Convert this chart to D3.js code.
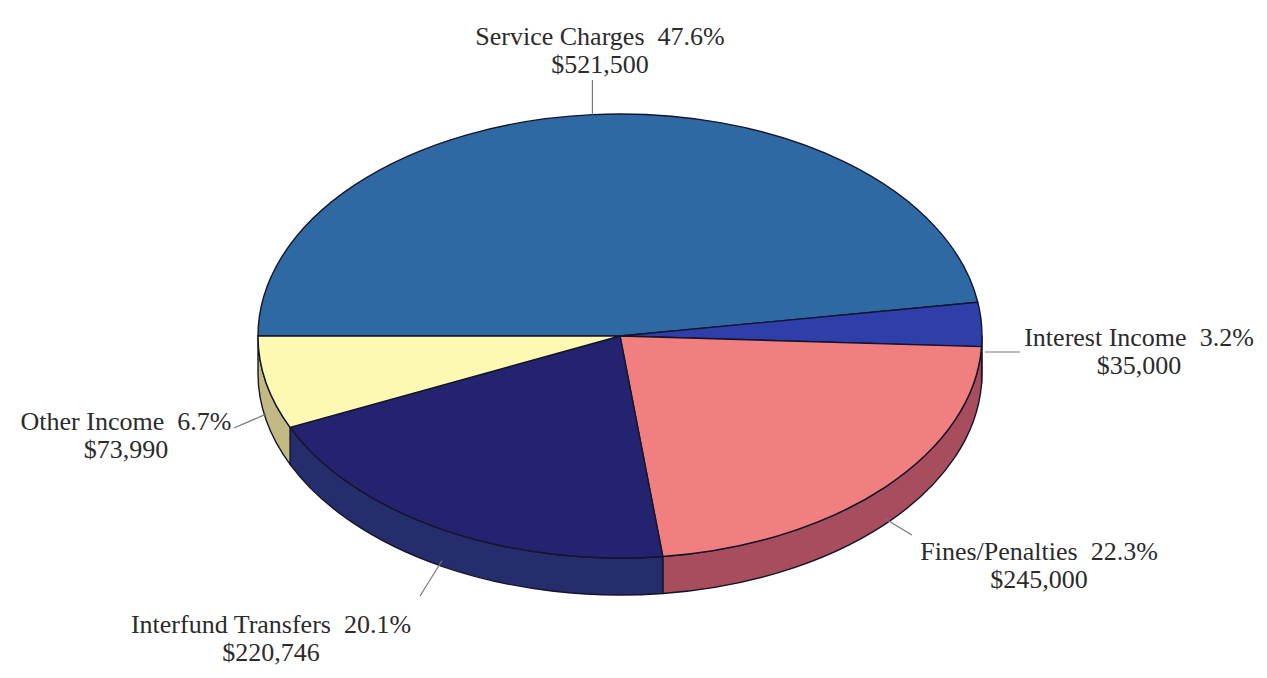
<!DOCTYPE html>
<html>
<head>
<meta charset="utf-8">
<script src="https://cdn.jsdelivr.net/npm/d3@7"></script>
<style>
  body { margin: 0; background: #fff; }
  svg text { font-family: "Liberation Serif", "Times New Roman", serif; fill: #2b2b2b; }
</style>
</head>
<body>
<div id="chart"></div>
<script>
const width = 1267;
const height = 678;

// data
const categories = ["Service Charges", "Interest Income", "Fines/Penalties", "Interfund Transfers", "Other Income"];
const amounts = [521500, 35000, 245000, 220746, 73990];
const percents = ["47.6%", "3.2%", "22.3%", "20.1%", "6.7%"];

// styles
const topColors = ["#2f69a3", "#2e3fa9", "#f27f80", "#232370", "#fdf8b2"];
const sideColors = ["#1f4a78", "#22307e", "#a84d5d", "#252d6c", "#c3b983"];

// label layout: text centre x, first baseline y, leader end point
const labelLayout = [
  { tx: 600, ty: 45, lx: null, ly: 80 },
  { tx: 1139, ty: 346, lx: 1020, ly: 352, horiz: true },
  { tx: 1039, ty: 560, lx: 912, ly: 535 },
  { tx: 271, ty: 633, lx: 420, ly: 596 },
  { tx: 126, ty: 430, lx: 234, ly: 428 }
];

const cx = 620, cy = 336, rx = 362, ry = 222, depth = 37;

const svg = d3.select("#chart")
  .append("svg")
  .attr("width", width)
  .attr("height", height);

const data = categories.map((c, i) => ({ name: c, value: amounts[i], pct: percents[i], i: i }));

const pie = d3.pie()
  .sort(null)
  .value(d => d.value)
  .startAngle(-Math.PI / 2)
  .endAngle(3 * Math.PI / 2);

const arcs = pie(data);

// point on the ellipse, angle measured clockwise from 12 o'clock like d3.pie
const pt = (a, dy = 0) => [cx + rx * Math.sin(a), cy - ry * Math.cos(a) + dy];

function topPath(d) {
  const p0 = pt(d.startAngle), p1 = pt(d.endAngle);
  const large = d.endAngle - d.startAngle > Math.PI ? 1 : 0;
  return `M${cx},${cy}L${p0}A${rx},${ry} 0 ${large} 1 ${p1}Z`;
}

function sidePath(d) {
  const s = Math.max(d.startAngle, Math.PI / 2);
  const e = Math.min(d.endAngle, 3 * Math.PI / 2);
  if (e <= s) return null;
  const a = pt(s), b = pt(e), b2 = pt(e, depth), a2 = pt(s, depth);
  return `M${a}A${rx},${ry} 0 0 1 ${b}L${b2}A${rx},${ry} 0 0 0 ${a2}Z`;
}

const g = svg.append("g");

g.selectAll("path.side")
  .data(arcs.filter(d => sidePath(d)))
  .join("path")
  .attr("class", "side")
  .attr("d", sidePath)
  .attr("fill", d => sideColors[d.data.i])
  .attr("stroke", "#15152a")
  .attr("stroke-width", 1.4)
  .attr("stroke-linejoin", "round");

g.selectAll("path.top")
  .data(arcs)
  .join("path")
  .attr("class", "top")
  .attr("d", topPath)
  .attr("fill", d => topColors[d.data.i])
  .attr("stroke", "#15152a")
  .attr("stroke-width", 1.4)
  .attr("stroke-linejoin", "round");

// leader lines + labels
const fmt = d3.format("$,");

arcs.forEach(d => {
  const mid = (d.startAngle + d.endAngle) / 2;
  const front = Math.cos(mid) < 0;
  const lay = labelLayout[d.data.i];
  let anchor = pt(mid, front ? depth * 0.85 : 0);
  if (lay.horiz) anchor = [cx + rx + 3, lay.ly];
  const endX = lay.lx === null ? anchor[0] : lay.lx;

  svg.append("line")
    .attr("x1", anchor[0]).attr("y1", anchor[1])
    .attr("x2", endX).attr("y2", lay.ly)
    .attr("stroke", "#777")
    .attr("stroke-width", 1.2);

  const t = svg.append("text")
    .attr("text-anchor", "middle")
    .attr("font-size", 26);
  t.append("tspan")
    .attr("x", lay.tx).attr("y", lay.ty)
    .text(d.data.name + "\u00a0\u00a0" + d.data.pct);
  t.append("tspan")
    .attr("x", lay.tx).attr("y", lay.ty + 28)
    .text(fmt(d.data.value));
});
</script>
</body>
</html>
